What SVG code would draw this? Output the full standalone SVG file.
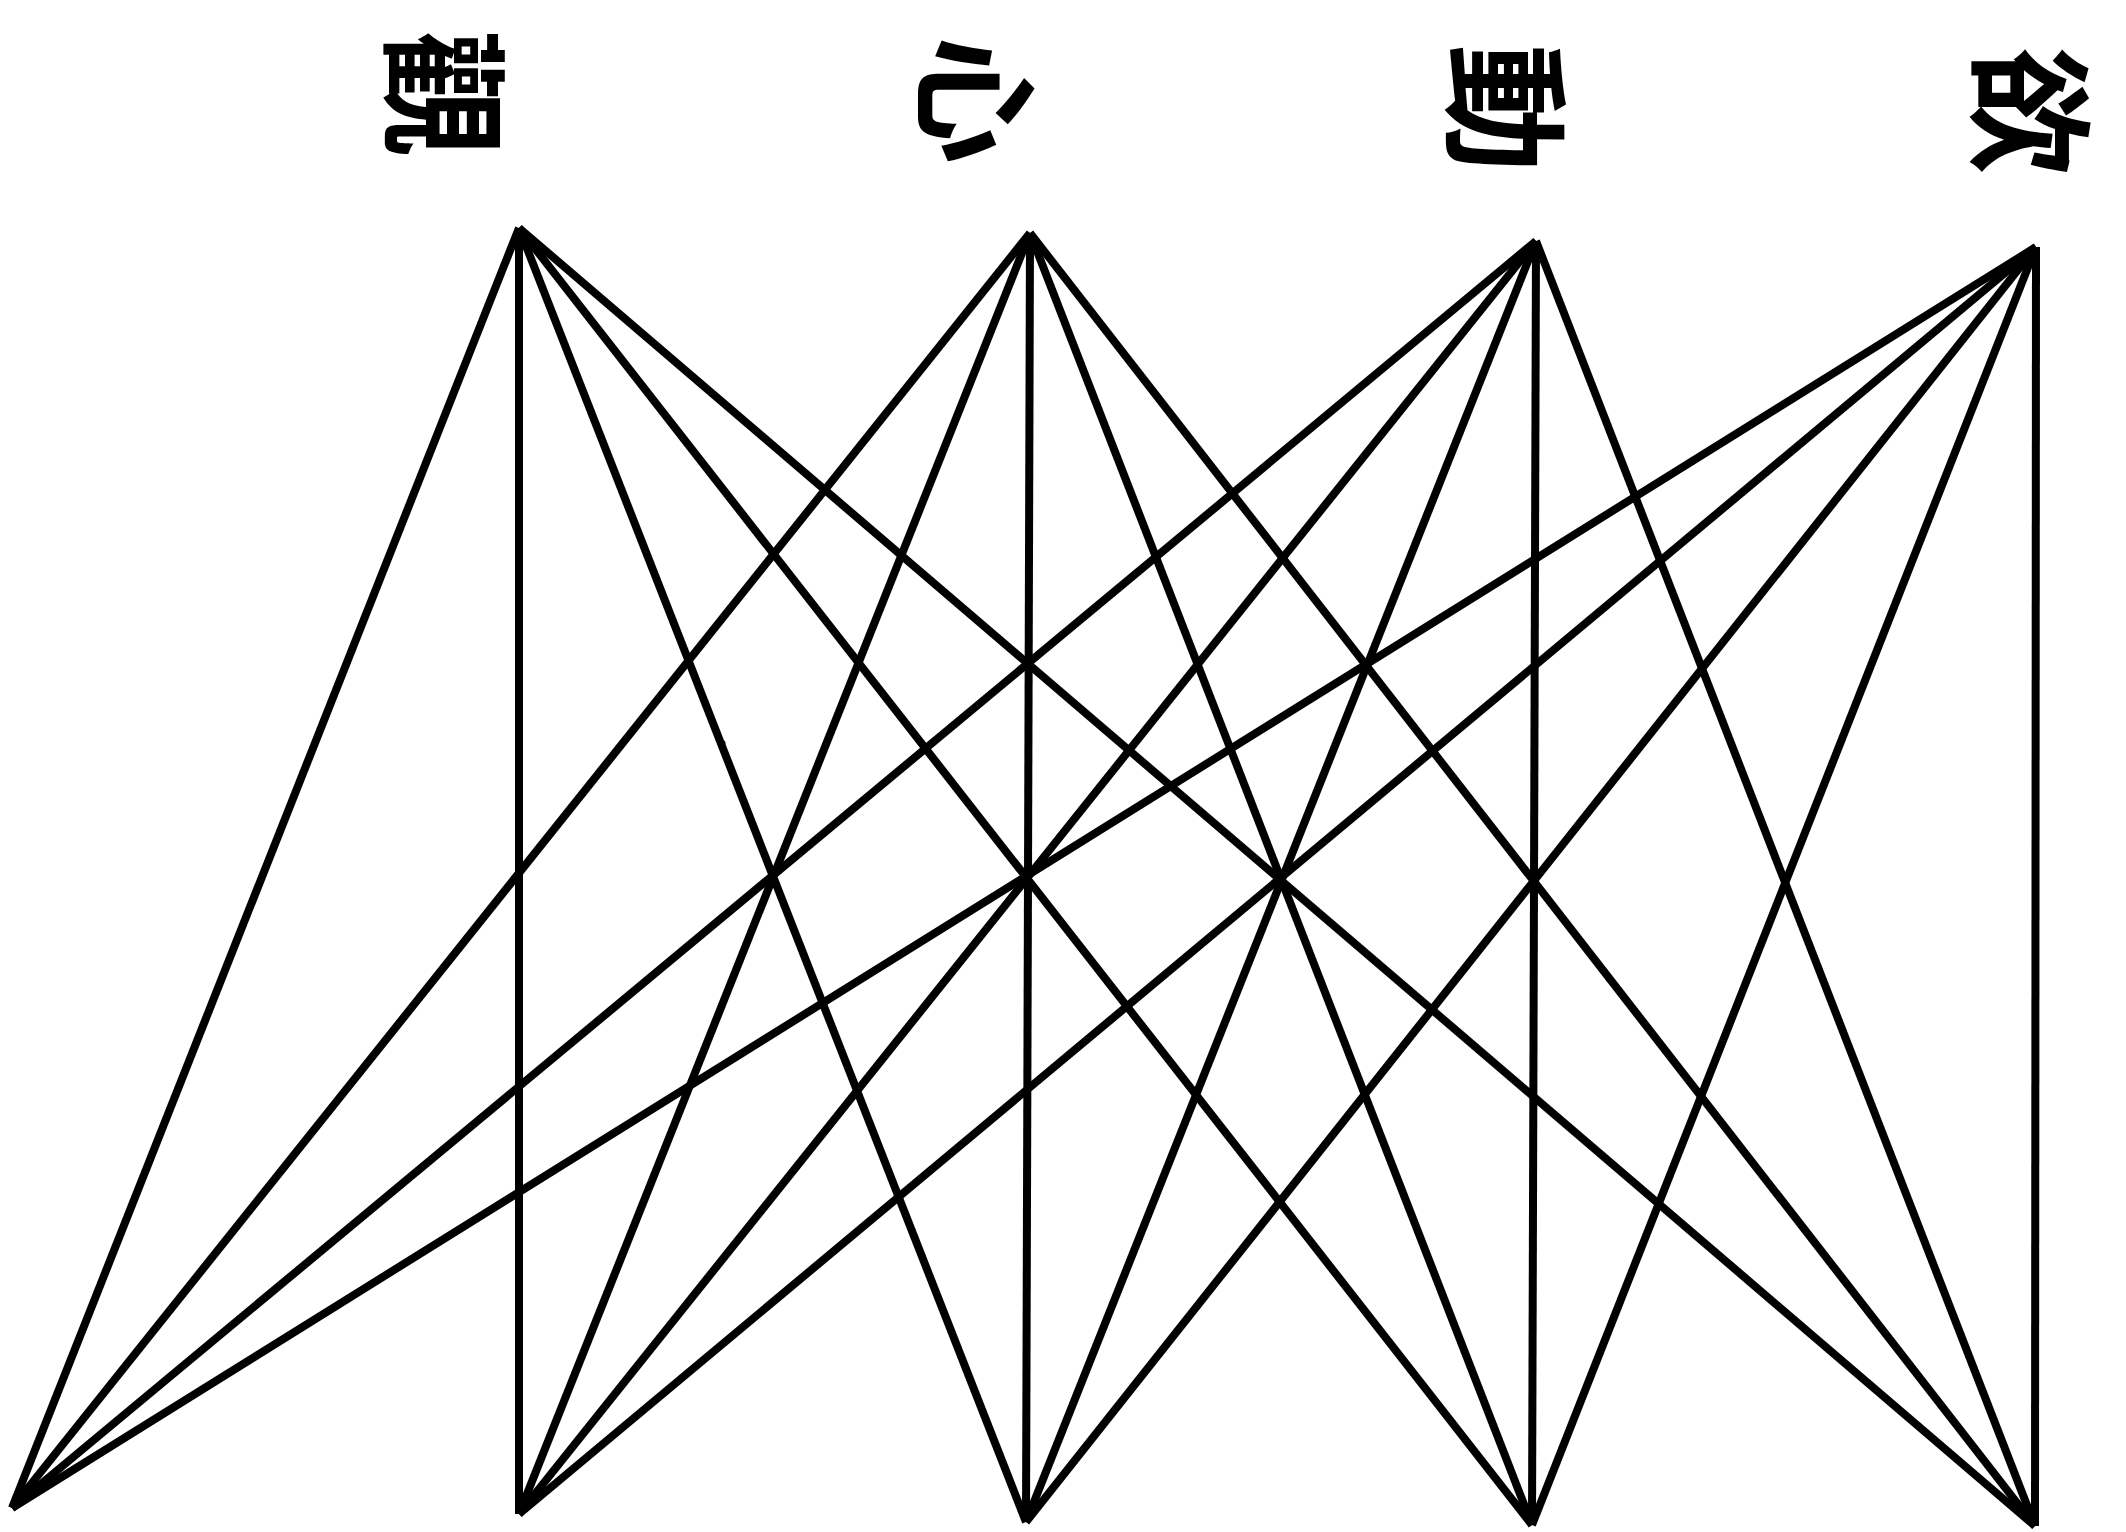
<svg xmlns="http://www.w3.org/2000/svg" width="2126" height="1532" viewBox="0 0 2126 1532">
  <style>
    .edge { stroke: #000; stroke-width: 8; stroke-linecap: butt; fill: none; }
    .label { font-family: "Noto Sans CJK TC", "Noto Sans CJK SC", "Noto Sans CJK JP", sans-serif; font-size: 128px; font-weight: 700; fill: #000; text-anchor: middle; dominant-baseline: central; }
  </style>
  <rect width="2126" height="1532" fill="#fff"/>
  <g id="connectors">
    <!-- from 觀 -->
    <line class="edge" x1="519" y1="228" x2="12" y2="1508"/>
    <line class="edge" x1="519" y1="228" x2="519" y2="1514"/>
    <line class="edge" x1="519" y1="228" x2="1026" y2="1522"/>
    <line class="edge" x1="519" y1="228" x2="1532" y2="1525"/>
    <line class="edge" x1="519" y1="228" x2="2035" y2="1526"/>
    <!-- from 心 -->
    <line class="edge" x1="1030" y1="233" x2="12" y2="1508"/>
    <line class="edge" x1="1030" y1="233" x2="519" y2="1514"/>
    <line class="edge" x1="1030" y1="233" x2="1026" y2="1522"/>
    <line class="edge" x1="1030" y1="233" x2="1532" y2="1525"/>
    <line class="edge" x1="1030" y1="233" x2="2035" y2="1526"/>
    <!-- from 動 -->
    <line class="edge" x1="1536" y1="241" x2="12" y2="1508"/>
    <line class="edge" x1="1536" y1="241" x2="519" y2="1514"/>
    <line class="edge" x1="1536" y1="241" x2="1026" y2="1522"/>
    <line class="edge" x1="1536" y1="241" x2="1532" y2="1525"/>
    <line class="edge" x1="1536" y1="241" x2="2035" y2="1526"/>
    <!-- from 欲 -->
    <line class="edge" x1="2036" y1="247" x2="12" y2="1508"/>
    <line class="edge" x1="2036" y1="247" x2="519" y2="1514"/>
    <line class="edge" x1="2036" y1="247" x2="1026" y2="1522"/>
    <line class="edge" x1="2036" y1="247" x2="1532" y2="1525"/>
    <line class="edge" x1="2036" y1="247" x2="2035" y2="1526"/>
  </g>
  <g id="node-guan">
    <text class="label" x="450" y="94" transform="rotate(90 450 94)">觀</text>
  </g>
  <g id="node-xin">
    <text class="label" x="982" y="100" transform="rotate(90 982 100)">心</text>
  </g>
  <g id="node-dong">
    <text class="label" x="1512" y="108" transform="rotate(90 1512 108)">動</text>
  </g>
  <g id="node-yu">
    <text class="label" x="2036" y="111" transform="rotate(90 2036 111)">欲</text>
  </g>
  <circle cx="723" cy="743" r="2.5" fill="#000"/>
</svg>
